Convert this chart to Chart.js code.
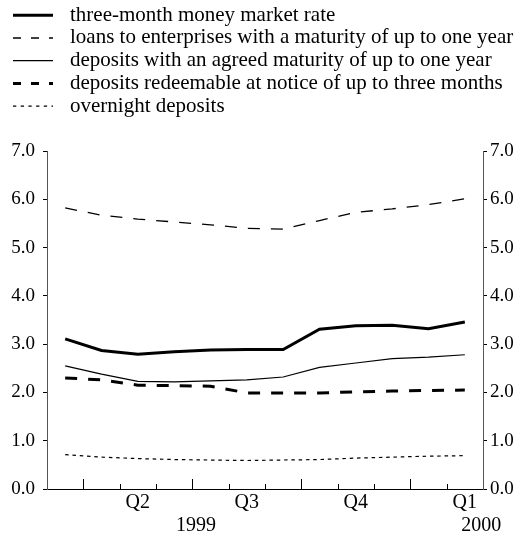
<!DOCTYPE html>
<html>
<head>
<meta charset="utf-8">
<script src="https://cdn.jsdelivr.net/npm/chart.js@4.4.1/dist/chart.umd.min.js"></script>
<style>
  html, body { margin: 0; padding: 0; background: #fff; }
</style>
</head>
<body>
<canvas id="chart" width="525" height="535"></canvas>
<script>
// monthly observations, March 1999 to February 2000 (% per annum)
const months = ['Mar 1999', 'Apr 1999', 'May 1999', 'Jun 1999', 'Jul 1999', 'Aug 1999',
  'Sep 1999', 'Oct 1999', 'Nov 1999', 'Dec 1999', 'Jan 2000', 'Feb 2000'];
const quarterLabels = ['', '', 'Q2', '', '', 'Q3', '', '', 'Q4', '', '', 'Q1'];
const yearLabels = ['1999', '2000'];

const moneyMarket    = [3.11, 2.87, 2.79, 2.84, 2.88, 2.89, 2.89, 3.31, 3.38, 3.39, 3.32, 3.46];
const loans          = [5.82, 5.67, 5.59, 5.53, 5.47, 5.40, 5.38, 5.56, 5.73, 5.80, 5.89, 6.01];
const agreedDeposits = [2.55, 2.38, 2.23, 2.22, 2.24, 2.26, 2.32, 2.52, 2.61, 2.70, 2.73, 2.78];
const noticeDeposits = [2.30, 2.26, 2.15, 2.14, 2.13, 1.99, 1.99, 1.99, 2.01, 2.03, 2.04, 2.05];
const overnight      = [0.71, 0.66, 0.63, 0.61, 0.60, 0.59, 0.60, 0.61, 0.64, 0.66, 0.68, 0.69];

const FONT = "'Liberation Serif', 'Times New Roman', serif";
const FS = 19;

// legend + inner x ticks + year labels
const framePlugin = {
  id: 'frame',
  afterDraw(chart) {
    const ctx = chart.ctx;
    const x = chart.scales.x;
    const area = chart.chartArea;
    ctx.save();
    // x tick marks point up into the plot, longer at quarter breaks
    ctx.strokeStyle = '#000';
    ctx.lineWidth = 1;
    for (let i = 0; i < months.length - 1; i++) {
      const px = Math.round(x.getPixelForValue(i + 0.5)) + 0.5;
      const len = (i % 3 === 0) ? 10 : 5;
      ctx.beginPath();
      ctx.moveTo(px, area.bottom);
      ctx.lineTo(px, area.bottom - len);
      ctx.stroke();
    }
    // years
    ctx.fillStyle = '#000';
    ctx.font = '20px ' + FONT;
    ctx.textAlign = 'center';
    ctx.textBaseline = 'alphabetic';
    ctx.fillText(yearLabels[0], x.getPixelForValue(3.6), 531);
    ctx.fillText(yearLabels[1], x.getPixelForValue(11.45), 531);

    // legend
    ctx.font = '21px ' + FONT;
    ctx.textAlign = 'left';
    chart.data.datasets.forEach((ds, i) => {
      const y = 15.3 + i * 22.7;
      ctx.strokeStyle = '#000';
      ctx.lineWidth = ds.borderWidth;
      ctx.setLineDash(ds.legendDash);
      ctx.beginPath();
      ctx.moveTo(13, y);
      ctx.lineTo(53, y);
      ctx.stroke();
      ctx.setLineDash([]);
      ctx.fillText(ds.label, 70, y + 5.4);
    });
    ctx.restore();
  }
};

const yTicks = (pad) => ({
  stepSize: 1,
  padding: pad,
  color: '#000',
  font: { family: FONT, size: FS },
  callback: v => v.toFixed(1)
});

new Chart(document.getElementById('chart'), {
  type: 'line',
  data: {
    labels: months,
    datasets: [
      { label: 'three-month money market rate', data: moneyMarket,
        borderColor: '#000', borderWidth: 3, legendDash: [], yAxisID: 'y' },
      { label: 'loans to enterprises with a maturity of up to one year', data: loans,
        borderColor: '#000', borderWidth: 1.3, borderDash: [12, 11], legendDash: [8, 10], yAxisID: 'y' },
      { label: 'deposits with an agreed maturity of up to one year', data: agreedDeposits,
        borderColor: '#000', borderWidth: 1.2, legendDash: [], yAxisID: 'y' },
      { label: 'deposits redeemable at notice of up to three months', data: noticeDeposits,
        borderColor: '#000', borderWidth: 3, borderDash: [12, 11], legendDash: [8, 10], yAxisID: 'y' },
      { label: 'overnight deposits', data: overnight,
        borderColor: '#000', borderWidth: 1.2, borderDash: [3.5, 3.8], legendDash: [3.3, 4.4], yAxisID: 'y' }
    ]
  },
  options: {
    responsive: false,
    animation: false,
    layout: { padding: { top: 151, left: 0, right: 0, bottom: 0 } },
    elements: { point: { radius: 0 }, line: { tension: 0, fill: false } },
    plugins: { legend: { display: false }, tooltip: { enabled: false } },
    scales: {
      x: {
        offset: true,
        grid: { display: false, drawTicks: false },
        border: { display: true, color: '#000', width: 1 },
        ticks: {
          autoSkip: false, maxRotation: 0, padding: 2, color: '#000',
          font: { family: FONT, size: 20 },
          callback: (v, i) => quarterLabels[i]
        },
        afterFit: s => { s.height = 46; }
      },
      y: {
        position: 'left', min: 0, max: 7,
        grid: { drawOnChartArea: false, tickLength: 4, color: '#000' },
        border: { color: '#555', width: 1 },
        ticks: yTicks(8),
        afterFit: s => { s.width = 47; }
      },
      y2: {
        position: 'right', min: 0, max: 7,
        grid: { drawOnChartArea: false, tickLength: 4, color: '#000' },
        border: { color: '#555', width: 1 },
        ticks: yTicks(3),
        afterFit: s => { s.width = 42; }
      }
    }
  },
  plugins: [framePlugin]
});
</script>
</body>
</html>
